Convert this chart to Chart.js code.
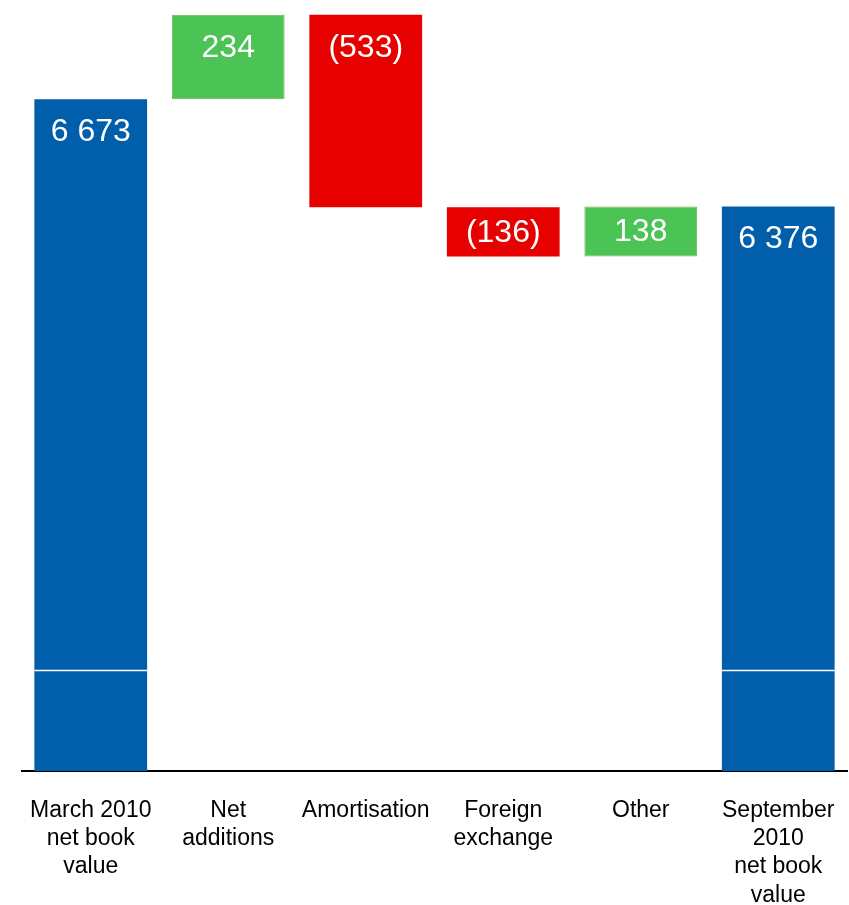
<!DOCTYPE html>
<html>
<head>
<meta charset="utf-8">
<script src="https://cdn.jsdelivr.net/npm/chart.js@4/dist/chart.umd.min.js"></script>
<style>
    html, body { margin: 0; padding: 0; background: #fff; }
    #wrap { width: 849px; height: 905px; }
</style>
</head>
<body>
<div id="wrap"><canvas id="waterfall"></canvas></div>
<script>
// Net book value bridge, March -> September 2010
const categories = [
    ['March 2010', 'net book', 'value'],
    ['Net', 'additions'],
    ['Amortisation'],
    ['Foreign', 'exchange'],
    ['Other'],
    ['September', '2010', 'net book', 'value']
];
const openingValue = 6673;
const movements = [234, -533, -136, 138];
const closingValue = 6376;

// axis window (the axis is broken, it does not start at zero)
const axisMin = 4814;
const axisMax = 6909;
const breakValue = 5093;

const BLUE = '#005EAB';
const GREEN = '#4BC355';
const RED = '#E60000';

// build floating bars [start, end] for the waterfall
const ranges = [];
const colors = [];
const labels = [];
ranges.push([axisMin, openingValue]);
colors.push(BLUE);
labels.push(formatValue(openingValue));
let running = openingValue;
movements.forEach(m => {
    ranges.push([running, running + m]);
    colors.push(m >= 0 ? GREEN : RED);
    labels.push(formatValue(m));
    running += m;
});
ranges.push([axisMin, closingValue]);
colors.push(BLUE);
labels.push(formatValue(closingValue));

function formatValue(v) {
    const s = Math.abs(v).toString().replace(/\B(?=(\d{3})+(?!\d))/g, ' ');
    return v < 0 ? '(' + s + ')' : s;
}

// white break line across the total bars
const breakLine = {
    id: 'breakLine',
    afterDatasetsDraw(chart) {
        const ctx = chart.ctx;
        const y = Math.round(chart.scales.y.getPixelForValue(breakValue)) + 0.5;
        chart.getDatasetMeta(0).data.forEach((bar, i) => {
            if (colors[i] !== BLUE) return;
            ctx.save();
            ctx.strokeStyle = '#fff';
            ctx.lineWidth = 1.5;
            ctx.beginPath();
            ctx.moveTo(bar.x - bar.width / 2, y);
            ctx.lineTo(bar.x + bar.width / 2, y);
            ctx.stroke();
            ctx.restore();
        });
    }
};

// value labels inside the bars, near the top
const valueLabels = {
    id: 'valueLabels',
    afterDatasetsDraw(chart) {
        const ctx = chart.ctx;
        ctx.save();
        ctx.fillStyle = '#fff';
        ctx.font = '32px "Liberation Sans", Arial, sans-serif';
        ctx.textAlign = 'center';
        ctx.textBaseline = 'middle';
        chart.getDatasetMeta(0).data.forEach((bar, i) => {
            const top = Math.min(bar.y, bar.base);
            const bottom = Math.max(bar.y, bar.base);
            const cy = Math.min(top + 33, (top + bottom) / 2 + 1);
            ctx.fillText(labels[i], bar.x, cy);
        });
        ctx.restore();
    }
};

new Chart(document.getElementById('waterfall'), {
    type: 'bar',
    data: {
        labels: categories,
        datasets: [{
            data: ranges,
            backgroundColor: colors,
            borderColor: colors.map(c => c === GREEN ? '#78B548' : c),
            borderWidth: colors.map(c => c === GREEN ? 1 : 0),
            borderSkipped: false,
            barPercentage: 0.82,
            categoryPercentage: 1
        }]
    },
    options: {
        responsive: true,
        maintainAspectRatio: false,
        animation: false,
        layout: {
            padding: { top: 14, left: 22, right: 2, bottom: 0 }
        },
        plugins: {
            legend: { display: false },
            tooltip: { enabled: false }
        },
        scales: {
            x: {
                grid: { display: false, drawTicks: false },
                border: { display: true, color: '#000', width: 2 },
                ticks: {
                    color: '#000',
                    padding: 26,
                    maxRotation: 0,
                    autoSkip: false,
                    font: { family: '"Liberation Sans", Arial, sans-serif', size: 23, lineHeight: 1.22 }
                },
                afterFit(scale) {
                    // labels sit inside their categories, no side padding needed
                    scale.height = 134;
                    scale.paddingLeft = 0;
                    scale.paddingRight = 0;
                }
            },
            y: {
                display: false,
                min: axisMin,
                max: axisMax
            }
        }
    },
    plugins: [breakLine, valueLabels]
});
</script>
</body>
</html>
